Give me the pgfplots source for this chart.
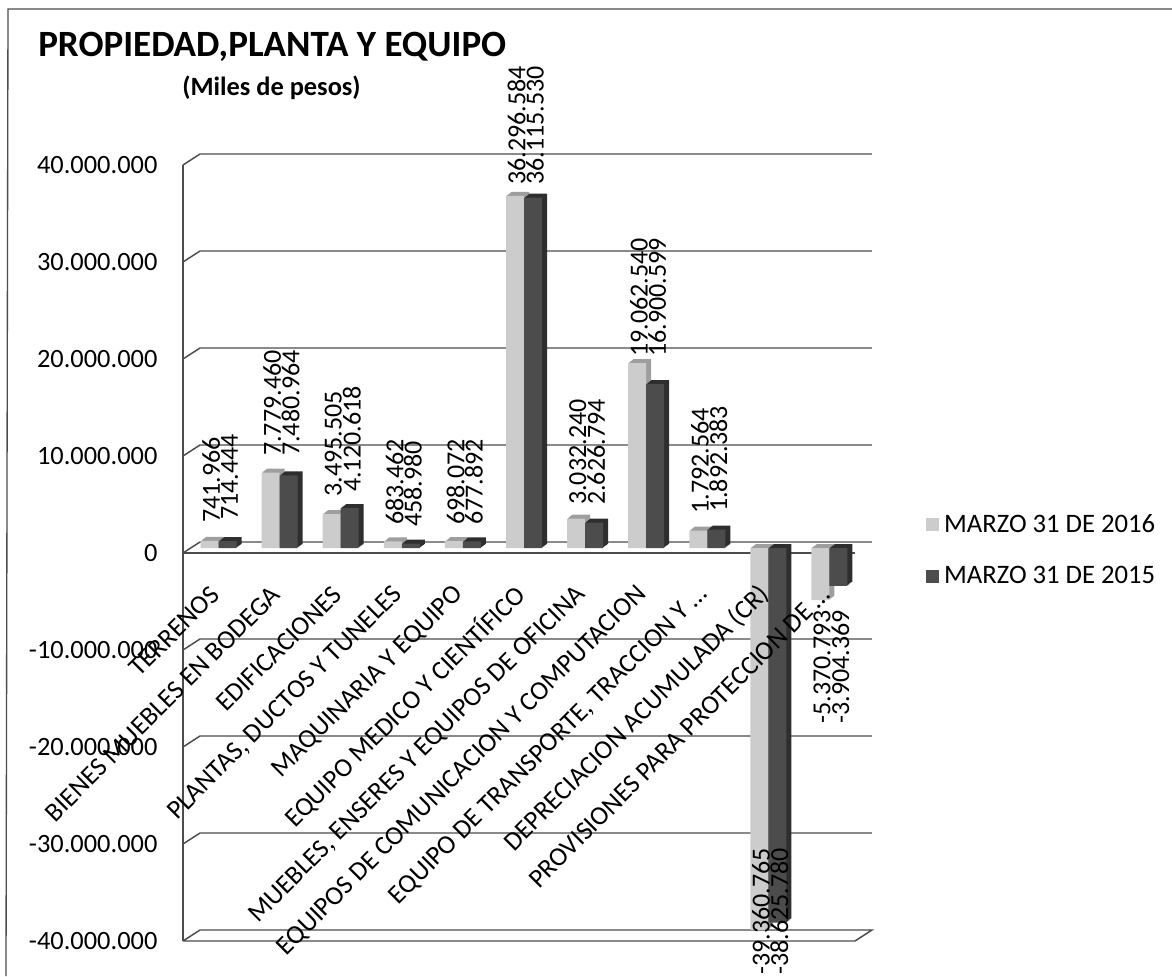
\documentclass[border=0pt]{standalone}
\usepackage{pgfplots}
\usepackage{pgfplotstable}
\usepackage{fontspec}
\setmainfont{Carlito}
\pgfplotsset{compat=1.18}
\pgfplotstableread{
x a b
0 741966 714444
1 7779460 7480964
2 3495505 4120618
3 683462 458980
4 698072 677892
5 36296584 36115530
6 3032240 2626794
7 19062540 16900599
8 1792564 1892383
9 -39360765 -38625780
10 -5370793 -3904369
}\datatable
\definecolor{lightface}{gray}{0.80}
\definecolor{lightcap}{gray}{0.62}
\definecolor{darkface}{gray}{0.30}
\definecolor{darkcap}{gray}{0.18}
\definecolor{wall}{gray}{0.30}
\pgfplotsset{
  frame/.style={scale only axis,width=504pt,height=582pt,
    xmin=-0.5,xmax=10.5,ymin=-40000000,ymax=40000000,clip=false},
  barsty/.style={ybar,draw=none,bar width=13.5pt},
  wallline/.style={no marks,color=wall,line width=1.1pt,sharp plot},
}
\begin{document}
\begin{tikzpicture}[x=0.75pt,y=0.75pt]
\path[use as bounding box] (0,0) rectangle (1172,976);
\draw[wall,line width=1pt] (6,0) -- (8,967) -- (1172,967);
% walls
\begin{axis}[frame,hide axis,at={(137.25pt,26.25pt)},anchor=south west]
\addplot[wallline] coordinates {(-0.5,40000000)(-0.2217,41134000)(10.778,41134000)};
\addplot[wallline] coordinates {(-0.5,30000000)(-0.2217,31134000)(10.778,31134000)};
\addplot[wallline] coordinates {(-0.5,20000000)(-0.2217,21134000)(10.778,21134000)};
\addplot[wallline] coordinates {(-0.5,10000000)(-0.2217,11134000)(10.778,11134000)};
\addplot[wallline] coordinates {(-0.5,0)(-0.2217,1134000)(10.778,1134000)};
\addplot[wallline] coordinates {(-0.5,-10000000)(-0.2217,-8866000)(10.778,-8866000)};
\addplot[wallline] coordinates {(-0.5,-20000000)(-0.2217,-18866000)(10.778,-18866000)};
\addplot[wallline] coordinates {(-0.5,-30000000)(-0.2217,-28866000)(10.778,-28866000)};
\addplot[wallline] coordinates {(-0.5,-40000000)(-0.2217,-38866000)(10.778,-38866000)(10.5,-40000000)(-0.5,-40000000)};
\addplot[wallline] coordinates {(-0.5,0)(10.5,0)};
\addplot[wallline,line width=1.4pt] coordinates {(-0.5,-40000000)(-0.5,40000000)};
\end{axis}
% depth of the bars
\foreach \k in {5,4,3,2,1}{
\begin{axis}[frame,hide axis,anchor=south west,
  at={({137.25pt+(5+\k)*0.75pt},{26.25pt+(5+0.8*\k)*0.75pt})}]
\addplot[barsty,fill=lightcap,bar shift=-6.75pt] table[x=x,y=a] {\datatable};
\addplot[barsty,fill=darkcap,bar shift=6.75pt] table[x=x,y=b] {\datatable};
\end{axis}
}
% front of the bars, legend
\begin{axis}[frame,hide axis,anchor=south west,
  at={({137.25pt+5*0.75pt},{26.25pt+5*0.75pt})},
  legend style={draw=none,fill=none,at={(1.092,0.497)},anchor=west,
    font=\fontsize{20pt}{22pt}\selectfont,/tikz/row sep=20pt,
    /tikz/column sep=1.5pt},
  legend image code/.code={\path[#1,draw=none] (0pt,-5pt) rectangle (10pt,5pt);}]
\addplot[barsty,fill=lightface,bar shift=-6.75pt] table[x=x,y=a] {\datatable};
\addplot[barsty,fill=darkface,bar shift=6.75pt] table[x=x,y=b] {\datatable};
\legend{MARZO 31 DE 2016,MARZO 31 DE 2015}
\end{axis}
% tick labels
\begin{axis}[frame,anchor=south west,at={(137.25pt,26.25pt)},
  axis line style={draw=none},tick style={draw=none},
  scaled y ticks=false,
  xtick={0,1,2,3,4,5,6,7,8,9,10},
  xticklabels={TERRENOS,BIENES MUEBLES EN BODEGA,EDIFICACIONES,{PLANTAS, DUCTOS Y TUNELES},MAQUINARIA Y EQUIPO,EQUIPO MEDICO Y CIENTÍFICO,{MUEBLES, ENSERES Y EQUIPOS DE OFICINA},EQUIPOS DE COMUNICACION Y COMPUTACION,{EQUIPO DE TRANSPORTE, TRACCION Y \ldots},DEPRECIACION ACUMULADA (CR),{PROVISIONES PARA PROTECCION DE \ldots}},
  xtick pos=bottom,ytick pos=left,
  xticklabel style={yshift=263pt,xshift=1pt,rotate=45,anchor=east,inner sep=0pt,font=\fontsize{19.9pt}{22pt}\selectfont},
  ytick={-40000000,-30000000,-20000000,-10000000,0,10000000,20000000,30000000,40000000},
  yticklabels={-40.000.000,-30.000.000,-20.000.000,-10.000.000,0,10.000.000,20.000.000,30.000.000,40.000.000},
  yticklabel style={anchor=east,inner sep=0pt,xshift=-19pt,font=\fontsize{19.8pt}{22pt}\selectfont},
  ]
\addplot[draw=none,no marks,forget plot] coordinates {(0,0)};
\end{axis}
% value labels
\begin{axis}[frame,hide axis,anchor=south west,
  at={({137.25pt+5*0.75pt},{26.25pt+5*0.75pt})},
  every node near coord/.style={rotate=90,inner sep=0pt,text=black,font=\fontsize{19.5pt}{22pt}\selectfont}]
\addplot[only marks,mark=none,point meta=explicit symbolic,nodes near coords,
  nodes near coords style={anchor=west}] table[x=x,y=y,meta=t] {
x y t
-0.12 2580000 741.966
0.18 2890000 714.444
0.88 9480000 7.779.460
1.18 9480000 7.480.964
1.88 5260000 3.495.505
2.18 5770000 4.120.618
2.88 2370000 683.462
3.18 2160000 458.980
3.88 2370000 698.072
4.18 2370000 677.892
4.88 37420000 36.296.584
5.18 37420000 36.115.530
5.88 4430000 3.032.240
6.18 4430000 2.626.794
6.88 19690000 19.062.540
7.18 19690000 16.900.599
7.88 3510000 1.792.564
8.18 3710000 1.892.383
};
\addplot[only marks,mark=none,point meta=explicit symbolic,nodes near coords,
  nodes near coords style={anchor=east}] table[x=x,y=y,meta=t] {
x y t
8.88 -30930000 -39.360.765
9.18 -30930000 -38.625.780
9.88 -6390000 -5.370.793
10.18 -6390000 -3.904.369
};
\end{axis}
\node[anchor=west,inner sep=0pt,font=\bfseries\fontsize{27.8pt}{30pt}\selectfont] at (38,929) {PROPIEDAD,PLANTA Y EQUIPO};
\node[anchor=west,inner sep=0pt,font=\bfseries\fontsize{19.8pt}{22pt}\selectfont] at (182,888) {(Miles de pesos)};
\end{tikzpicture}
\end{document}
